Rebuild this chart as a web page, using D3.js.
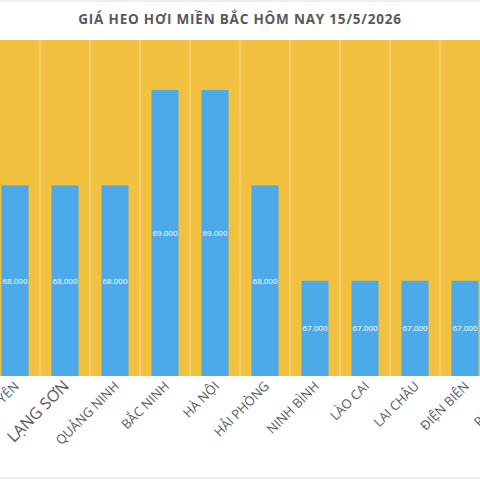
<!DOCTYPE html>
<html><head><meta charset="utf-8">
<script src="https://cdn.jsdelivr.net/npm/d3@7"></script>
<style>body{margin:0;background:#fff}</style>
</head><body><div id="chart"></div>
<script>
const provinces = ["HƯNG YÊN", "LẠNG SƠN", "QUẢNG NINH", "BẮC NINH", "HÀ NỘI", "HẢI PHÒNG", "NINH BÌNH", "LÀO CAI", "LAI CHÂU", "ĐIỆN BIÊN", "PHÚ THỌ"];
const prices = [68000, 68000, 68000, 69000, 69000, 68000, 67000, 67000, 67000, 67000, 67000];
const title = "GIÁ HEO HƠI MIỀN BẮC HÔM NAY 15/5/2026";

const width = 480, height = 480;
const svg = d3.select("#chart").append("svg").attr("width", width).attr("height", height)
    .style("font-family", "'Open Sans', sans-serif");

// chart is cropped on both sides: bands 50px wide starting at x=-10
const x = d3.scaleBand().domain(provinces).range([-10, 540]).paddingInner(0.46).paddingOuter(0.23);
const y = d3.scaleLinear().domain([66000, 69525]).range([376, 40]);
const edge = d => x(d) - x.step() * 0.23;

svg.append("rect").attr("x", 0).attr("y", 40).attr("width", width).attr("height", 336).attr("fill", "#F2C13F");

svg.append("g").selectAll("line").data(provinces.slice(1)).join("line")
    .attr("x1", edge).attr("x2", edge)
    .attr("y1", 40).attr("y2", 376)
    .attr("stroke", "#F6D9A0").attr("stroke-width", 1);

svg.append("g").selectAll("rect").data(provinces).join("rect")
    .attr("x", d => x(d)).attr("width", x.bandwidth())
    .attr("y", (d, i) => y(prices[i])).attr("height", (d, i) => y(66000) - y(prices[i]))
    .attr("fill", "#4DAAE8");

svg.append("g").selectAll("text").data(provinces).join("text")
    .attr("x", d => x(d) + x.bandwidth() / 2)
    .attr("y", (d, i) => (y(prices[i]) + y(66000)) / 2 + 3)
    .attr("text-anchor", "middle").attr("fill", "#fff").attr("font-size", 8)
    .text((d, i) => d3.format(",")(prices[i]).replace(/,/g, "."));

svg.append("g").selectAll("text").data(provinces).join("text")
    .attr("transform", d => `translate(${x(d) + x.bandwidth() / 2 + 5},${387}) rotate(-45)`)
    .attr("text-anchor", "end").attr("fill", "#595959")
    .attr("font-size", (d, i) => i === 1 ? 16 : 13)
    .text(d => d);

svg.append("text").attr("x", 240).attr("y", 24).attr("text-anchor", "middle")
    .attr("fill", "#595959").attr("font-size", 13.5).attr("font-weight", "bold")
    .attr("letter-spacing", 0.8).text(title);

svg.append("line").attr("x1", 0).attr("x2", width).attr("y1", 1).attr("y2", 1).attr("stroke", "#ddd");
svg.append("line").attr("x1", 0).attr("x2", width).attr("y1", 478).attr("y2", 478).attr("stroke", "#ddd");
</script></body></html>
